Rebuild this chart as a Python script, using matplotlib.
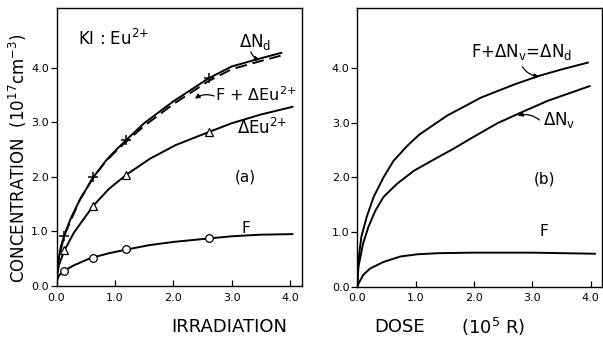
import matplotlib
matplotlib.use("Agg")
import matplotlib.pyplot as plt

plt.rcParams['font.family'] = ['DejaVu Sans']
plt.rcParams['mathtext.fontset'] = 'dejavusans'

# (a) measured points: dose (10^5 R) and concentrations (10^17 cm^-3)
dose_pts = [0.13, 0.62, 1.19, 2.61]
f_pts = [0.28, 0.51, 0.67, 0.87]
eu_pts = [0.66, 1.47, 2.04, 2.82]
nd_pts = [0.92, 1.99, 2.67, 3.80]

# (a) drawn curves
nd_x = [0, 0.01, 0.03, 0.07, 0.13, 0.25, 0.4, 0.63, 0.85, 1.0, 1.19, 1.5, 2.0, 2.6, 3.0, 3.5, 3.85]
nd_y = [0, 0.25, 0.45, 0.7, 0.92, 1.25, 1.58, 1.99, 2.3, 2.47, 2.67, 2.98, 3.38, 3.80, 4.02, 4.17, 4.27]

sum_x = [0, 0.03, 0.13, 0.4, 0.63, 0.85, 1.0, 1.19, 1.5, 2.0, 2.6, 3.0, 3.5, 3.85]
sum_y = [0, 0.45, 0.92, 1.58, 1.99, 2.29, 2.45, 2.64, 2.93, 3.33, 3.75, 3.97, 4.12, 4.22]

eu_x = [0, 0.01, 0.04, 0.14, 0.3, 0.63, 0.9, 1.2, 1.6, 2.04, 2.61, 3.0, 3.5, 4.04]
eu_y = [0, 0.18, 0.38, 0.66, 0.98, 1.47, 1.78, 2.04, 2.33, 2.58, 2.82, 2.98, 3.14, 3.28]

fa_x = [0, 0.01, 0.04, 0.13, 0.3, 0.58, 0.9, 1.21, 1.6, 2.03, 2.6, 3.0, 3.5, 4.04]
fa_y = [0, 0.1, 0.19, 0.28, 0.38, 0.51, 0.6, 0.67, 0.75, 0.81, 0.87, 0.91, 0.94, 0.95]

# (b) curves
ndb_x = [0, 0.01, 0.02, 0.07, 0.16, 0.28, 0.45, 0.62, 0.86, 1.06, 1.54, 2.12, 2.69, 3.12, 3.55, 3.95]
ndb_y = [0, 0.3, 0.48, 0.91, 1.27, 1.64, 2.0, 2.3, 2.58, 2.78, 3.13, 3.46, 3.7, 3.86, 3.99, 4.1]

nv_x = [0, 0.01, 0.02, 0.1, 0.19, 0.31, 0.45, 0.68, 0.97, 1.32, 1.61, 1.96, 2.4, 2.75, 3.26, 3.98]
nv_y = [0, 0.2, 0.36, 0.79, 1.09, 1.39, 1.64, 1.88, 2.12, 2.33, 2.5, 2.72, 2.99, 3.16, 3.4, 3.67]

fb_x = [0, 0.02, 0.1, 0.22, 0.45, 0.74, 1.03, 1.38, 1.96, 3.0, 4.07]
fb_y = [0, 0.05, 0.21, 0.33, 0.45, 0.55, 0.59, 0.61, 0.62, 0.62, 0.6]

ticks = [0.0, 1.0, 2.0, 3.0, 4.0]
tick_labels = ['0.0', '1.0', '2.0', '3.0', '4.0']

fig = plt.figure(figsize=(6.03, 3.41), dpi=100)
ax1 = fig.add_axes([0.0937, 0.1613, 0.4066, 0.8167])
ax2 = fig.add_axes([0.5925, 0.1598, 0.4066, 0.8167])

lw = 1.4
for ax in (ax1, ax2):
    ax.set_xlim(0, 4.2)
    ax.set_ylim(0, 5.1)
    ax.set_xticks(ticks)
    ax.set_xticklabels(tick_labels)
    ax.set_yticks(ticks)
    ax.set_yticklabels(tick_labels)
    ax.tick_params(axis='x', direction='in', length=4, width=0.9, pad=5, labelsize=8)
    ax.tick_params(axis='y', direction='out', length=4, width=0.9, pad=1.5, labelsize=8)
    for s in ax.spines.values():
        s.set_linewidth(1.0)

# panel (a)
ax1.plot(nd_x, nd_y, color='black', lw=lw)
ax1.plot(sum_x, sum_y, color='black', lw=lw, dashes=(6, 3))
ax1.plot(eu_x, eu_y, color='black', lw=lw)
ax1.plot(fa_x, fa_y, color='black', lw=lw)
ax1.plot(dose_pts, nd_pts, ls='none', marker='+', ms=7, mew=1.1, color='black')
ax1.plot(dose_pts, eu_pts, ls='none', marker='^', ms=6, mew=0.9, mfc='white', mec='black')
ax1.plot(dose_pts, f_pts, ls='none', marker='o', ms=5.5, mew=0.9, mfc='white', mec='black')

ax1.text(0.37, 4.42, r'KI : Eu$^{2{+}}$', fontsize=12, ha='left', va='baseline')
ax1.text(3.12, 4.38, r'$\Delta$N$_{\rm d}$', fontsize=12, ha='left', va='baseline')
ax1.text(2.72, 3.51, r'F + $\Delta$Eu$^{2{+}}$', fontsize=11.5, ha='left', va='center')
ax1.text(3.1, 2.9, r'$\Delta$Eu$^{2{+}}$', fontsize=12, ha='left', va='center')
ax1.text(3.24, 1.99, '(a)', fontsize=11, ha='center', va='center')
ax1.text(3.25, 1.06, 'F', fontsize=11, ha='center', va='center')

arrow = dict(arrowstyle='-|>', color='black', lw=0.9, mutation_scale=7,
             connectionstyle='arc3,rad=0.25', shrinkA=0, shrinkB=0)
ax1.annotate('', xy=(3.48, 4.14), xytext=(3.33, 4.29), arrowprops=arrow)
ax1.annotate('', xy=(2.37, 3.43), xytext=(2.70, 3.48), arrowprops=arrow)

# panel (b)
ax2.plot(ndb_x, ndb_y, color='black', lw=lw)
ax2.plot(nv_x, nv_y, color='black', lw=lw)
ax2.plot(fb_x, fb_y, color='black', lw=lw)

ax2.text(1.94, 4.2, r'F+$\Delta$N$_{\rm v}$=$\Delta$N$_{\rm d}$', fontsize=12, ha='left', va='baseline')
ax2.text(3.18, 3.05, r'$\Delta$N$_{\rm v}$', fontsize=12, ha='left', va='center')
ax2.text(3.2, 1.96, '(b)', fontsize=11, ha='center', va='center')
ax2.text(3.2, 1.0, 'F', fontsize=11, ha='center', va='center')
ax2.annotate('', xy=(3.12, 3.85), xytext=(2.83, 4.02), arrowprops=arrow)
ax2.annotate('', xy=(2.75, 3.13), xytext=(3.12, 3.05), arrowprops=arrow)

# axis titles
fig.text(18 / 603, 0.537, 'CONCENTRATION  (10$^{17}$cm$^{-3}$)', rotation=90,
         fontsize=12, ha='center', va='center')
fig.text(229 / 603, 0.041, 'IRRADIATION', fontsize=13, ha='center', va='center')
fig.text(400 / 603, 0.041, 'DOSE', fontsize=13, ha='center', va='center')
fig.text(493 / 603, 0.041, '(10$^5$ R)', fontsize=13, ha='center', va='center')

fig.savefig('out.png', dpi=100)
